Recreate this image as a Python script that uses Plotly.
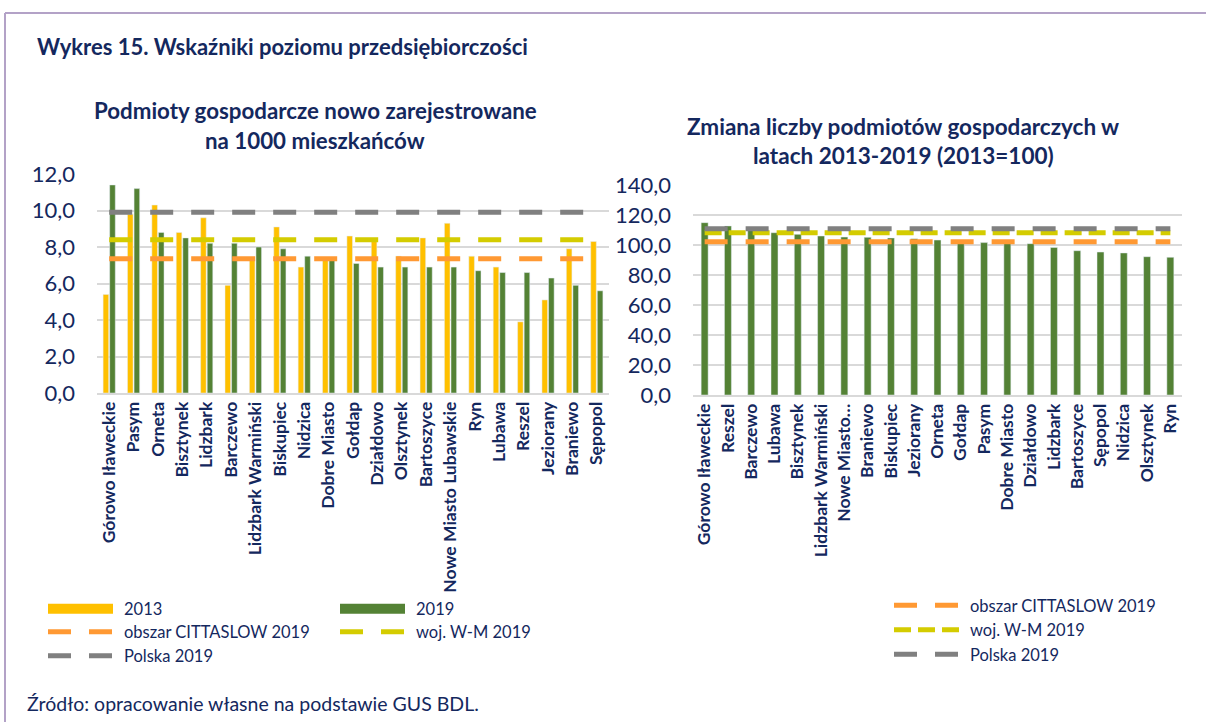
import plotly.graph_objects as go

W, H = 1206, 722
FONT = "Lato, 'Open Sans', sans-serif"
NAVY = "#14285E"
GRID = "#D9D9D9"

C2013 = "#FFC000"
C2019 = "#548235"
C_CITTA = "#FF9933"
C_WM = "#D4CC00"
C_PL = "#808080"

# --- left chart: new businesses per 1000 inhabitants ---
cats_left = [
    "Górowo Iławeckie", "Pasym", "Orneta", "Bisztynek", "Lidzbark", "Barczewo",
    "Lidzbark Warmiński", "Biskupiec", "Nidzica", "Dobre Miasto", "Gołdap",
    "Działdowo", "Olsztynek", "Bartoszyce", "Nowe Miasto Lubawskie", "Ryn",
    "Lubawa", "Reszel", "Jeziorany", "Braniewo", "Sępopol",
]
vals_2013 = [5.4, 9.8, 10.3, 8.8, 9.6, 5.9, 7.3, 9.1, 6.9, 7.3, 8.6,
             8.3, 7.5, 8.5, 9.3, 7.5, 6.9, 3.9, 5.1, 7.9, 8.3]
vals_2019 = [11.4, 11.2, 8.8, 8.5, 8.2, 8.2, 8.0, 7.9, 7.5, 7.3, 7.1,
             6.9, 6.9, 6.9, 6.9, 6.7, 6.6, 6.6, 6.3, 5.9, 5.6]
citta_left = 7.35
wm_left = 8.4
pl_left = 9.9

# --- right chart: change in number of businesses 2013-2019 (2013=100) ---
cats_right = [
    "Górowo Iławeckie", "Reszel", "Barczewo", "Lubawa", "Bisztynek",
    "Lidzbark Warmiński", "Nowe Miasto…", "Braniewo", "Biskupiec", "Jeziorany",
    "Orneta", "Gołdap", "Pasym", "Dobre Miasto", "Działdowo", "Lidzbark",
    "Bartoszyce", "Sępopol", "Nidzica", "Olsztynek", "Ryn",
]
vals_change = [114.9, 112.7, 110.3, 108.2, 107.1, 106.0, 105.3, 105.1, 104.7,
               104.2, 103.3, 102.6, 101.6, 101.3, 100.9, 98.4, 96.2, 95.3,
               94.7, 92.2, 91.8]
citta_right = 102.2
wm_right = 108.1
pl_right = 110.8


def px_x(p):
    return p / W


def px_y(p):
    return 1 - p / H


fig = go.Figure()

# bars (left)
fig.add_trace(go.Bar(x=cats_left, y=vals_2013, name="2013", marker_color=C2013,
                     showlegend=False, xaxis="x", yaxis="y"))
fig.add_trace(go.Bar(x=cats_left, y=vals_2019, name="2019", marker_color=C2019,
                     showlegend=False, xaxis="x", yaxis="y"))

# legend stand-ins for bars (wide bar glyphs)
bar_glyph = "65px,40px"
fig.add_trace(go.Scatter(x=[None], y=[None], mode="lines", name="2013",
                         line=dict(color=C2013, width=10, dash=bar_glyph),
                         legend="legend", xaxis="x", yaxis="y"))
fig.add_trace(go.Scatter(x=[None], y=[None], mode="lines", name="2019",
                         line=dict(color=C2019, width=10, dash=bar_glyph),
                         legend="legend", xaxis="x", yaxis="y"))

# reference lines (left)
long_dash = "23px,18px"
fig.add_trace(go.Scatter(x=cats_left, y=[citta_left] * len(cats_left), mode="lines",
                         name="obszar CITTASLOW 2019", legend="legend2",
                         line=dict(color=C_CITTA, width=5, dash=long_dash),
                         xaxis="x", yaxis="y"))
fig.add_trace(go.Scatter(x=cats_left, y=[wm_left] * len(cats_left), mode="lines",
                         name="woj. W-M 2019", legend="legend2",
                         line=dict(color=C_WM, width=5, dash=long_dash),
                         xaxis="x", yaxis="y"))
fig.add_trace(go.Scatter(x=cats_left, y=[pl_left] * len(cats_left), mode="lines",
                         name="Polska 2019", legend="legend3",
                         line=dict(color=C_PL, width=5, dash=long_dash),
                         xaxis="x", yaxis="y"))

# right chart
fig.add_trace(go.Bar(x=cats_right, y=vals_change, marker_color=C2019, width=0.3,
                     showlegend=False, xaxis="x2", yaxis="y2"))
fig.add_trace(go.Scatter(x=cats_right, y=[citta_right] * len(cats_right), mode="lines",
                         name="obszar CITTASLOW 2019", legend="legend4",
                         line=dict(color=C_CITTA, width=5, dash=long_dash),
                         xaxis="x2", yaxis="y2"))
fig.add_trace(go.Scatter(x=cats_right, y=[wm_right] * len(cats_right), mode="lines",
                         name="woj. W-M 2019", legend="legend4",
                         line=dict(color=C_WM, width=5, dash="17px,7px"),
                         xaxis="x2", yaxis="y2"))
fig.add_trace(go.Scatter(x=cats_right, y=[pl_right] * len(cats_right), mode="lines",
                         name="Polska 2019", legend="legend4",
                         line=dict(color=C_PL, width=5, dash=long_dash),
                         xaxis="x2", yaxis="y2"))

xcat = dict(type="category", tickangle=-90, showgrid=False, ticks="",
            showline=True, linecolor=GRID, linewidth=1.5, automargin=False,
            tickfont=dict(family=FONT, size=17.5, color=NAVY, weight="bold"))
yval = dict(showgrid=True, gridcolor=GRID, gridwidth=1.5, zeroline=False,
            ticks="", tickformat=".1f", ticklabelstandoff=21, automargin=False,
            tickfont=dict(family=FONT, size=22, color=NAVY))

leg_font = dict(family=FONT, size=16.5, color=NAVY)
leg_common = dict(font=leg_font, bgcolor="rgba(0,0,0,0)", itemwidth=71,
                  xanchor="left", yanchor="middle", itemclick=False)

fig.update_layout(
    width=W, height=H,
    margin=dict(l=0, r=0, t=0, b=0, autoexpand=False),
    paper_bgcolor="white", plot_bgcolor="white",
    separators=", ",
    barmode="group", bargap=0.46, bargroupgap=0.15,
    font=dict(family=FONT, color=NAVY),
    xaxis=dict(**xcat, domain=[px_x(97), px_x(609)], anchor="y"),
    yaxis=dict(**yval, domain=[px_y(393), px_y(174)], range=[0, 12], dtick=2, anchor="x"),
    xaxis2=dict(**xcat, domain=[px_x(693), px_x(1182)], anchor="y2"),
    yaxis2=dict(**yval, domain=[px_y(395), px_y(185)], range=[0, 140], dtick=20, anchor="x2"),
    legend=dict(**leg_common, orientation="h", entrywidth=206,
                x=px_x(43), y=px_y(609)),
    legend2=dict(**leg_common, orientation="h", entrywidth=206,
                 x=px_x(43), y=px_y(632)),
    legend3=dict(**leg_common, orientation="h", entrywidth=206,
                 x=px_x(43), y=px_y(656)),
    legend4=dict(**leg_common, orientation="v", tracegroupgap=0,
                 x=px_x(889), y=px_y(630)),
    showlegend=True,
)

annots = [
    ("Wykres 15. Wskaźniki poziomu przedsiębiorczości", 35, 46, "left", 22, True),
    ("Podmioty gospodarcze nowo zarejestrowane", 315, 111, "center", 22.3, True),
    ("na 1000 mieszkańców", 315, 140, "center", 22.3, True),
    ("Zmiana liczby podmiotów gospodarczych w", 903, 127, "center", 22.5, True),
    ("latach 2013-2019 (2013=100)", 903, 156, "center", 22.5, True),
    ("Źródło: opracowanie własne na podstawie GUS BDL.", 25, 703, "left", 19.5, False),
]
for text, ax, ay, anchor, size, bold in annots:
    fig.add_annotation(
        text=text, xref="paper", yref="paper", x=px_x(ax), y=px_y(ay),
        xanchor=anchor, yanchor="middle", showarrow=False,
        font=dict(family=FONT, size=size, color=NAVY, weight="bold" if bold else "normal"),
    )

# frame around the figure
frame = "#B3A2C7"
fig.add_shape(type="line", xref="paper", yref="paper",
              x0=px_x(5), x1=1, y0=px_y(13), y1=px_y(13), line=dict(color=frame, width=2))
fig.add_shape(type="line", xref="paper", yref="paper",
              x0=px_x(5), x1=px_x(5), y0=px_y(13), y1=0, line=dict(color=frame, width=2))

# page body margin would push the fixed-size figure off the window
fig.write_html("out.html", config={"displayModeBar": False},
               post_script="document.body.style.margin='0';document.body.style.overflow='hidden';")
